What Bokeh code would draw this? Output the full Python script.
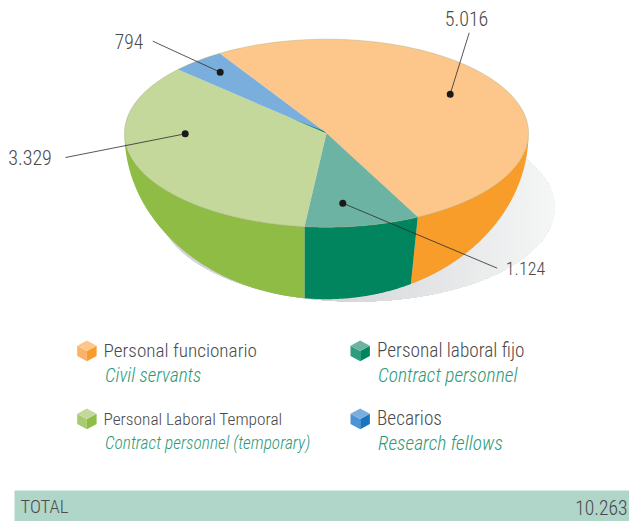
import numpy as np
from bokeh.plotting import figure
from bokeh.models import Range1d
from bokeh.core.properties import value
from bokeh.embed import file_html
from bokeh.resources import INLINE

# ---------- data (clockwise round the pie from the top) ----------
categories = ["Personal funcionario", "Personal laboral fijo", "Personal Laboral Temporal", "Becarios"]
categories_en = ["Civil servants", "Contract personnel", "Contract personnel (temporary)", "Research fellows"]
labels = ["5.016", "1.124", "3.329", "794"]
total_label = "TOTAL"
total_value = "10.263"
# the printed slices are not proportional to the printed labels: shares as drawn (in %)
drawn_shares = [51.4, 9.2, 35.1, 4.3]
top_colors = ["#FDC78B", "#6DB3A3", "#C4D89B", "#7AAEDD"]
side_colors = ["#F89C2A", "#00855F", "#8FBC44", "#1B75BC"]
cube_left = ["#FBB168", "#2F9C80", "#A9CB70", "#4A93D6"]

FONT = "Roboto Condensed Light, Roboto Condensed, Roboto Light, Roboto"
TXT = "#4a4a4a"
GREEN_TXT = "#2b9a78"

W, H = 629, 521
p = figure(width=W, height=H, x_range=Range1d(0, W), y_range=Range1d(H, 0),
           output_backend="svg", toolbar_location=None, min_border=0, outline_line_color=None,
           background_fill_color="white", border_fill_color="white")
p.axis.visible = False
p.grid.visible = False

# ---------- shadow (left-to-right overlapping strips make a gradient) ----------
sx, sy, srx, sry = 356.0, 207.0, 198.0, 94.0
c0 = np.array([0xD2, 0xD4, 0xD6]); c1 = np.array([0xF6, 0xF7, 0xF7])
N = 70
for i in range(N):
    xl = sx - srx + 2 * srx * i / N
    half = np.arccos((xl - sx) / srx)
    tt = np.linspace(-half, half, 90)
    mix = max(0.0, (xl - 310) / (554 - 310))
    col = c0 + (c1 - c0) * mix
    p.patch(sx + srx * np.cos(tt), sy + sry * np.sin(tt),
            fill_color="#%02x%02x%02x" % tuple(int(v) for v in col), line_color=None)

# ---------- pie ----------
cx, cy, rx, ry = 326.0, 132.7, 202.0, 94.0
bowl = 166.0
start = 121.9        # parametric angle of the orange/blue seam, going clockwise
shares = np.array(drawn_shares) / sum(drawn_shares)
edges = start - np.concatenate([[0], np.cumsum(shares)]) * 360.0


def arc(a0, a1, r_y, n=120):
    t = np.radians(np.linspace(a0, a1, n))
    return cx + rx * np.cos(t), cy - r_y * np.sin(t)


def lean(a):
    """Wall seams on the right lean inward a little towards the bottom of the bowl."""
    return a - 4.8 * max(0.0, np.cos(np.radians(a)))


# side walls: the part of each slice on the front half (-180..0 degrees)
for i in range(3):
    hi = min(edges[i], 0.0)
    lo = max(edges[i + 1], -180.0)
    x1, y1 = arc(hi, lo, ry)
    x2, y2 = arc(max(lean(lo), -180.0) if lo > -180 else lo, lean(hi) if hi < 0 else hi, bowl)
    p.patch(np.r_[x1, x2], np.r_[y1, y2], fill_color=side_colors[i], line_color=None)

# top faces
for i in range(4):
    x, y = arc(edges[i], edges[i + 1], ry)
    p.patch(np.r_[cx, x], np.r_[cy, y], fill_color=top_colors[i], line_color=None)

# thin rim
xr, yr = arc(0, 360, ry, 360)
p.line(xr, yr, line_color="#a8ad7c", line_width=0.6, line_alpha=0.7)

# sliver of dark green at the centre, along the blue/green seam
xa, ya = arc(edges[3], edges[3], ry, 1)
xb, yb = arc(edges[4], edges[4], ry, 1)
p.patch([cx + (xa[0] - cx) * 0.22, cx, cx + (xb[0] - cx) * 0.03],
        [cy + (ya[0] - cy) * 0.22, cy, cy + (yb[0] - cy) * 0.03],
        fill_color=side_colors[1], line_color=None)

# ---------- leaders ----------
leader_x = [[468.7, 449.7], [496.7, 342.3], [65, 184.7], [152.3, 219.7]]
leader_y = [[32.3, 93.7], [267.7, 202.7], [157, 133.3], [40.7, 71.7]]
for lx, ly in zip(leader_x, leader_y):
    p.line(lx, ly, line_color="#2b2b2b", line_width=0.8)
    p.scatter([lx[1]], [ly[1]], size=7, marker="circle", fill_color="#1a1a1a", line_color=None)

label_x = [466, 525, 29.5, 128.5]
label_y = [18, 267.5, 157, 41]
label_size = ["20px", "18px", "20px", "19.5px"]
for t, lx, ly, fs in zip(labels, label_x, label_y, label_size):
    p.text([lx], [ly], text=[t], text_font=value(FONT), text_font_size=fs, text_color=TXT,
           text_align="center", text_baseline="middle")

# ---------- legend ----------
cube_x = [86.4, 359.7, 86.4, 359.7]
cube_y = [350.5, 350.5, 418.5, 418.5]
text_x = [103, 376.5, 103, 376.5]
text_y = [350, 350, 418, 418]
sub_x = [104.5, 377.5, 104.5, 377.5]
sub_y = [374.5, 374.5, 442.5, 442.5]
main_size = ["19.2px", "19.3px", "17.3px", "19.3px"]
sub_size = ["19.2px", "19.5px", "17.4px", "19.5px"]
for i in range(4):
    X, Y = cube_x[i], cube_y[i]
    a, b, c = 9.7, 5.2, 10.3
    p.patch([X, X + a, X + a, X], [Y, Y - b, Y + c - b, Y + c], fill_color=side_colors[i], line_color=None)
    p.patch([X, X - a, X - a, X], [Y, Y - b, Y + c - b, Y + c], fill_color=cube_left[i], line_color=None)
    p.patch([X, X + a, X, X - a], [Y, Y - b, Y - 2 * b, Y - b], fill_color=top_colors[i], line_color=None)
    p.text([text_x[i]], [text_y[i]], text=[categories[i]], text_font=value(FONT), text_font_size=main_size[i],
           text_color=TXT, text_baseline="middle")
    p.text([sub_x[i]], [sub_y[i]], text=[categories_en[i]], text_font=value(FONT), text_font_size=sub_size[i],
           text_font_style="italic", text_color=GREEN_TXT, text_baseline="middle")

# ---------- total bar ----------
p.quad(left=[14], right=[629], top=[490], bottom=[521], fill_color="#B0D5C9", line_color=None)
p.text([20], [506.5], text=[total_label], text_font=value(FONT), text_font_size="18.5px", text_color=TXT,
       text_baseline="middle")
p.text([627], [506.5], text=[total_value], text_font=value(FONT), text_font_size="19.6px", text_color=TXT,
       text_align="right", text_baseline="middle")

open("out.html", "w").write(file_html(p, INLINE))
